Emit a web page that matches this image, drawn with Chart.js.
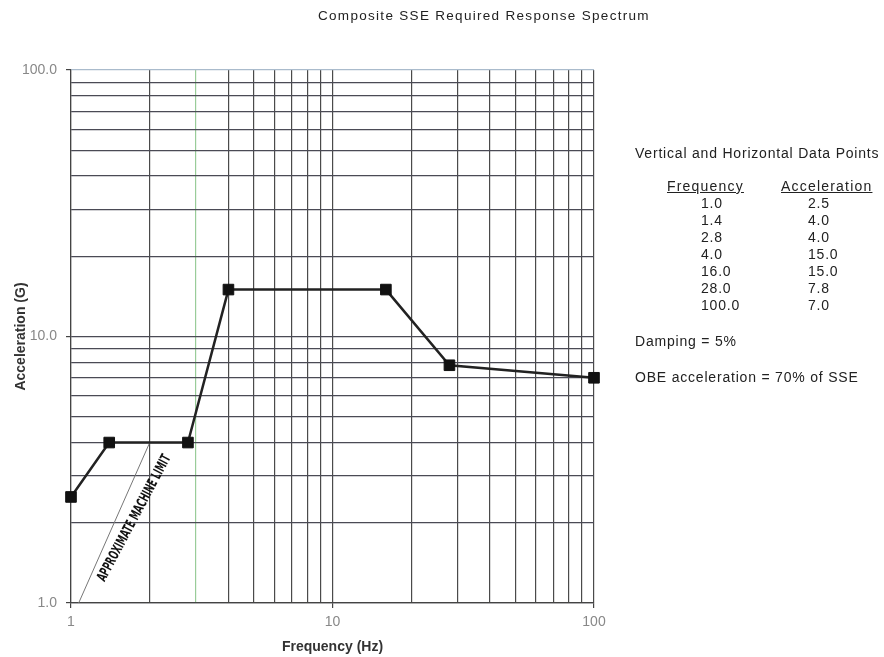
<!DOCTYPE html>
<html>
<head>
<meta charset="utf-8">
<script src="https://cdn.jsdelivr.net/npm/chart.js@4.4.0/dist/chart.umd.min.js"></script>
<style>
    body { margin: 0; background: #fff; font-family: 'Liberation Sans', Arial, sans-serif; color: #222; }
    #wrap { position: relative; width: 884px; height: 657px; }
    #chart { position: absolute; left: 0; top: 0; }
    .txt { position: absolute; font-size: 14px; line-height: 16px; white-space: nowrap; letter-spacing: 0.8px; }
    .title { left: 318px; top: 8px; font-size: 13.5px; letter-spacing: 1.3px; }
    .hdr { text-decoration: underline; font-size: 14px; letter-spacing: 1.2px; }
</style>
</head>
<body>
<div id="wrap">
    <canvas id="chart" width="884" height="657"></canvas>
    <div class="txt title">Composite SSE Required Response Spectrum</div>
    <div id="side"></div>
</div>
<script>
// Spectrum data (Hz, G)
const frequencies = [1.0, 1.4, 2.8, 4.0, 16.0, 28.0, 100.0];
const accelerations = [2.5, 4.0, 4.0, 15.0, 15.0, 7.8, 7.0];

// Approximate machine limit line
const limitFrequencies = [1.07, 2.0];
const limitAccelerations = [1.0, 4.0];

// Axis ticks
const xTickValues = [1, 2, 3, 4, 5, 6, 7, 8, 9, 10, 20, 30, 40, 50, 60, 70, 80, 90, 100];
const yTickValues = [1, 2, 3, 4, 5, 6, 7, 8, 9, 10, 20, 30, 40, 50, 60, 70, 80, 90, 100];
const xTickLabels = { 1: '1', 10: '10', 100: '100' };
const yTickLabels = { 1: '1.0', 10: '10.0', 100: '100.0' };

// Side panel table
const tableFreqLabels = ['1.0', '1.4', '2.8', '4.0', '16.0', '28.0', '100.0'];
const tableAccLabels = ['2.5', '4.0', '4.0', '15.0', '15.0', '7.8', '7.0'];

function buildSidePanel() {
    const side = document.getElementById('side');
    let html = '';
    html += `<div class="txt" style="left:635px;top:145px">Vertical and Horizontal Data Points</div>`;
    html += `<div class="txt hdr" style="left:667px;top:178px">Frequency</div>`;
    html += `<div class="txt hdr" style="left:781px;top:178px">Acceleration</div>`;
    tableFreqLabels.forEach((f, i) => {
        const top = 195 + i * 17.05;
        html += `<div class="txt" style="left:701px;top:${top}px">${f}</div>`;
        html += `<div class="txt" style="left:808px;top:${top}px">${tableAccLabels[i]}</div>`;
    });
    html += `<div class="txt" style="left:635px;top:333px">Damping = 5%</div>`;
    html += `<div class="txt" style="left:635px;top:369px">OBE acceleration = 70% of SSE</div>`;
    side.innerHTML = html;
}

function setTicks(values) {
    return function (scale) {
        scale.ticks = values.map(v => ({ value: v, major: v === 1 || v === 10 || v === 100 }));
    };
}

// rotated label along the machine limit line
const limitLabel = {
    id: 'limitLabel',
    afterDatasetsDraw(chart) {
        const ctx = chart.ctx;
        const x = chart.scales.x.getPixelForValue(1.75);
        const y = chart.scales.y.getPixelForValue(2.08);
        ctx.save();
        ctx.translate(x, y);
        ctx.rotate(-62 * Math.PI / 180);
        ctx.scale(0.66, 1);
        ctx.font = 'bold 14px "DejaVu Sans Condensed", "Liberation Sans Narrow", sans-serif';
        ctx.fillStyle = '#111';
        ctx.textAlign = 'center';
        ctx.textBaseline = 'middle';
        ctx.fillText('APPROXIMATE MACHINE LIMIT', 0, 0);
        ctx.restore();
    }
};

document.addEventListener('DOMContentLoaded', function () {
    buildSidePanel();

    const ctx = document.getElementById('chart').getContext('2d');
    new Chart(ctx, {
        type: 'line',
        data: {
            datasets: [{
                label: 'Required Response Spectrum',
                data: frequencies.map((f, i) => ({ x: f, y: accelerations[i] })),
                borderColor: '#222',
                borderWidth: 2.5,
                backgroundColor: '#111',
                pointStyle: 'rect',
                pointRadius: 7.5,
                pointBorderWidth: 1,
                pointBorderColor: '#111',
                tension: 0,
                clip: false
            }, {
                label: 'Approximate Machine Limit',
                data: limitFrequencies.map((f, i) => ({ x: f, y: limitAccelerations[i] })),
                borderColor: '#777',
                borderWidth: 1,
                pointRadius: 0
            }]
        },
        options: {
            responsive: false,
            animation: false,
            devicePixelRatio: 1,
            layout: { padding: { left: 0, right: 290, top: 70, bottom: 0 } },
            plugins: {
                legend: { display: false },
                tooltip: { enabled: false }
            },
            scales: {
                x: {
                    type: 'logarithmic',
                    min: 1,
                    max: 100,
                    afterBuildTicks: setTicks(xTickValues),
                    afterFit: s => { s.height = 54; },
                    ticks: {
                        autoSkip: false,
                        maxRotation: 0,
                        padding: 6,
                        color: '#888',
                        font: { family: 'Liberation Sans', size: 14 },
                        callback: v => xTickLabels[v] || ''
                    },
                    grid: {
                        color: c => c.tick && c.tick.value === 3 ? '#9c9' : '#4a4a4a',
                        lineWidth: 1.2,
                        tickColor: c => c.tick && c.tick.major ? '#444' : 'rgba(0,0,0,0)',
                        tickLength: 5
                    },
                    border: { color: '#444', width: 1.2 },
                    title: {
                        display: true,
                        text: 'Frequency (Hz)',
                        color: '#333',
                        font: { family: 'Liberation Sans', size: 14, weight: 'bold' },
                        padding: { top: 1, bottom: 1 }
                    }
                },
                y: {
                    type: 'logarithmic',
                    min: 1,
                    max: 100,
                    afterBuildTicks: setTicks(yTickValues),
                    afterFit: s => { s.width = 71; },
                    ticks: {
                        autoSkip: false,
                        padding: 9,
                        color: '#888',
                        font: { family: 'Liberation Sans', size: 14 },
                        callback: v => yTickLabels[v] || ''
                    },
                    grid: {
                        color: c => c.tick && c.tick.value === 100 ? '#abc' : '#4a4a55',
                        lineWidth: 1.2,
                        tickColor: c => c.tick && c.tick.major ? '#444' : 'rgba(0,0,0,0)',
                        tickLength: 5
                    },
                    border: { color: '#444', width: 1.2 },
                    title: {
                        display: true,
                        text: 'Acceleration (G)',
                        color: '#333',
                        font: { family: 'Liberation Sans', size: 14, weight: 'bold' },
                        padding: { top: 13, bottom: 0 }
                    }
                }
            }
        },
        plugins: [limitLabel]
    });
});
</script>
</body>
</html>
